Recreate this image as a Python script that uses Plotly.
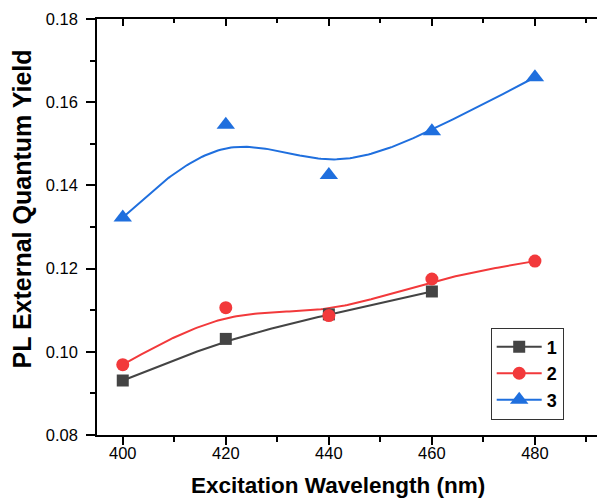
import numpy as np
import plotly.graph_objects as go

wavelength = [400, 420, 440, 460, 480]
series1 = [0.0931, 0.1031, 0.1090, 0.1145]
series2 = [0.0969, 0.1106, 0.1087, 0.1175, 0.1218]
series3 = [0.1323, 0.1546, 0.1425, 0.1530, 0.1660]
names = ["1", "2", "3"]
x_ticks = [400, 420, 440, 460, 480]
y_ticks = [0.08, 0.10, 0.12, 0.14, 0.16, 0.18]
y_tick_labels = ["0.08", "0.10", "0.12", "0.14", "0.16", "0.18"]
x_title = "Excitation Wavelength (nm)"
y_title = "PL External Quantum Yield"

colors = ["#444444", "#F2393B", "#1F6FDE"]
symbols = ["square", "circle", "triangle-up"]
msizes = [12, 13, 16]

FONT = "Arial, Liberation Sans, sans-serif"


def bspline(xs, ys, n=40):
    """Uniform cubic B-spline with the data as control points (ends tripled)."""
    P = np.column_stack([xs, ys]).astype(float)
    Q = np.vstack([P[0], P[0], P, P[-1], P[-1]])
    t = np.linspace(0, 1, n)
    b0 = (1 - t) ** 3 / 6
    b1 = (3 * t**3 - 6 * t**2 + 4) / 6
    b2 = (-3 * t**3 + 3 * t**2 + 3 * t + 1) / 6
    b3 = t**3 / 6
    pts = []
    for j in range(len(Q) - 3):
        seg = (np.outer(b0, Q[j]) + np.outer(b1, Q[j + 1])
               + np.outer(b2, Q[j + 2]) + np.outer(b3, Q[j + 3]))
        pts.append(seg if j == 0 else seg[1:])
    pts = np.vstack(pts)
    return pts[:, 0], pts[:, 1]


data = [series1, series2, series3]
fig = go.Figure()

for vals, c in zip(data, colors):
    xs = wavelength[:len(vals)]
    cx, cy = bspline(xs, vals)
    fig.add_trace(go.Scatter(x=cx, y=cy, mode="lines",
                             line=dict(color=c, width=2), showlegend=False,
                             hoverinfo="skip"))

for vals, c, s, ms in zip(data, colors, symbols, msizes):
    xs = wavelength[:len(vals)]
    fig.add_trace(go.Scatter(x=xs, y=vals, mode="markers",
                             marker=dict(color=c, symbol=s, size=ms,
                                         line=dict(width=0)),
                             showlegend=False))

for name, c, s, ms in zip(names, colors, symbols, msizes):
    fig.add_trace(go.Scatter(x=[None], y=[None], mode="lines+markers",
                             name="<b>" + name + "</b>",
                             line=dict(color=c, width=2),
                             marker=dict(color=c, symbol=s, size=ms,
                                         line=dict(width=0))))

# invisible traces to activate the mirror / label axes
fig.add_trace(go.Scatter(x=[None], y=[None], xaxis="x2", yaxis="y", showlegend=False))
fig.add_trace(go.Scatter(x=[None], y=[None], xaxis="x", yaxis="y2", showlegend=False))
fig.add_trace(go.Scatter(x=[None], y=[None], xaxis="x3", yaxis="y", showlegend=False))

xr = [395, 493.6]
yr = [0.08, 0.18]

# page body has an 8px default margin; size the figure to fit the window
fig.update_layout(
    width=597, height=491,
    margin=dict(l=89, r=0, t=11, b=64),
    paper_bgcolor="white", plot_bgcolor="white",
    font=dict(family=FONT, color="black", size=16.5),
    xaxis=dict(range=xr, showgrid=False, zeroline=False,
               showline=True, linecolor="black", linewidth=1.5,
               ticks="outside", ticklen=8, tickwidth=1.5, tickcolor="black",
               tickvals=x_ticks, showticklabels=False,
               minor=dict(ticks="outside", ticklen=5, tickwidth=1.5,
                          tickcolor="black", dtick=10, tick0=400)),
    xaxis3=dict(range=xr, overlaying="x", side="bottom", anchor="y",
                showgrid=False, zeroline=False, showline=False,
                ticks="outside", ticklen=3, tickcolor="rgba(0,0,0,0)",
                tickvals=x_ticks, showticklabels=True,
                tickfont=dict(size=16.5, family=FONT, color="black")),
    xaxis2=dict(range=xr, overlaying="x", side="top", anchor="y",
                showgrid=False, zeroline=False,
                showline=True, linecolor="black", linewidth=1.5,
                ticks="inside", ticklen=7, tickwidth=1.5, tickcolor="black",
                tickvals=x_ticks, showticklabels=False,
                minor=dict(ticks="inside", ticklen=4, tickwidth=1.5,
                           tickcolor="black", dtick=10, tick0=400)),
    yaxis=dict(range=yr, showgrid=False, zeroline=False,
               showline=True, linecolor="black", linewidth=1.5,
               ticks="outside", ticklen=9, tickwidth=1.5, tickcolor="black",
               tickvals=y_ticks, ticktext=y_tick_labels, ticklabelstandoff=5,
               tickfont=dict(size=16.5, family=FONT),
               minor=dict(ticks="outside", ticklen=5, tickwidth=1.5,
                          tickcolor="black", dtick=0.01, tick0=0.08)),
    yaxis2=dict(range=yr, overlaying="y", side="right", anchor="x",
                showgrid=False, zeroline=False, showline=False,
                ticks="inside", ticklen=3, tickwidth=1.5, tickcolor="black",
                tickvals=y_ticks, showticklabels=False),
    legend=dict(x=0.775, y=0.258, xanchor="left", yanchor="top",
                bgcolor="white", bordercolor="#333333", borderwidth=1,
                font=dict(size=18, family=FONT, color="black"),
                itemwidth=45, tracegroupgap=0),
    showlegend=True,
    annotations=[
        dict(text="<b>" + x_title + "</b>", xref="paper", yref="paper",
             x=0.4744, y=0, xanchor="center", yanchor="middle", yshift=-50,
             showarrow=False, font=dict(size=22.5, family=FONT, color="black")),
        dict(text="<b>" + y_title + "</b>", xref="paper", yref="paper",
             x=0, y=0.542, xanchor="center", yanchor="middle", xshift=-75,
             textangle=-90, showarrow=False,
             font=dict(size=25, family=FONT, color="black")),
    ],
)

fig.write_html("out.html")
